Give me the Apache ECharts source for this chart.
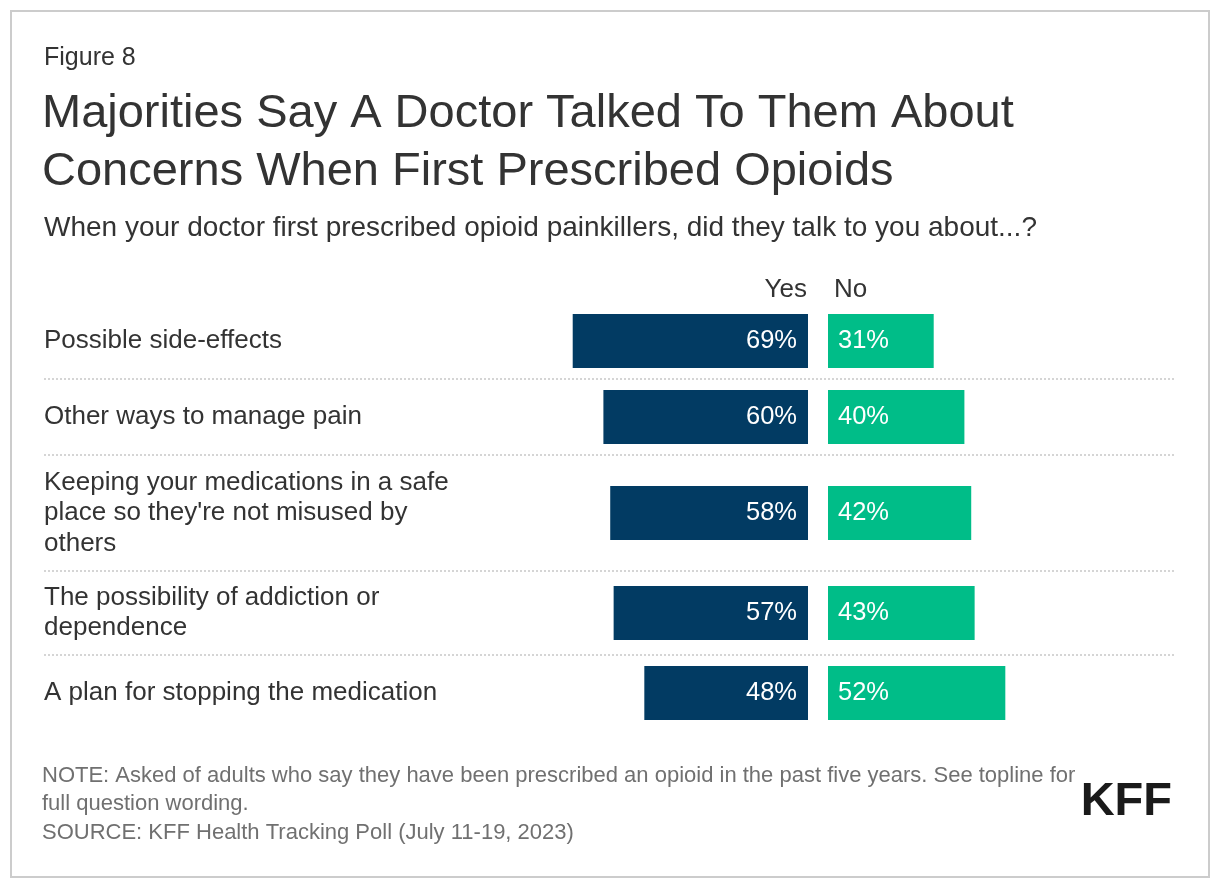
<!DOCTYPE html>
<html>
<head>
<meta charset="utf-8">
<script src="https://cdn.jsdelivr.net/npm/echarts@6/dist/echarts.min.js"></script>
<style>
html,body{margin:0;padding:0;background:#fff;}
#chart{width:1220px;height:888px;}
</style>
</head>
<body>
<div id="chart"></div>
<script>
const categories = [
  "Possible side-effects",
  "Other ways to manage pain",
  "Keeping your medications in a safe\nplace so they're not misused by\nothers",
  "The possibility of addiction or\ndependence",
  "A plan for stopping the medication"
];
const yesValues = [69, 60, 58, 57, 48];
const noValues = [31, 40, 42, 43, 52];
const seriesNames = ["Yes", "No"];
const figureLabel = "Figure 8";
const titleText = "Majorities Say A Doctor Talked To Them About\nConcerns When First Prescribed Opioids";
const subtitleText = "When your doctor first prescribed opioid painkillers, did they talk to you about...?";
const noteText = "NOTE: Asked of adults who say they have been prescribed an opioid in the past five years. See topline for\nfull question wording.\nSOURCE: KFF Health Tracking Poll (July 11-19, 2023)";

const FONT = '"Liberation Sans", Arial, Helvetica, sans-serif';
const NAVY = '#023b63';
const GREEN = '#00bd88';
const TEXT = '#333333';

const chart = echarts.init(document.getElementById('chart'), null, {renderer: 'canvas'});

const grids = [], xAxes = [], yAxes = [], series = [], graphics = [];
const yesLeft = 467, scaleW = 341, noLeft = 828;
let y = 303;
categories.forEach((cat, i) => {
  const lines = cat.split('\n').length;
  const h = Math.max(76, lines * 32 + 20);
  grids.push({left: yesLeft, width: scaleW, top: y, height: h, containLabel: false});
  grids.push({left: noLeft, width: scaleW, top: y, height: h, containLabel: false});
  xAxes.push({gridIndex: 2*i, type: 'value', min: 0, max: 100, inverse: true, show: false});
  xAxes.push({gridIndex: 2*i+1, type: 'value', min: 0, max: 100, show: false});
  yAxes.push({
    gridIndex: 2*i, type: 'category', data: [cat],
    axisLine: {show: false, onZero: false}, axisTick: {show: false}, splitLine: {show: false},
    axisLabel: {align: 'left', margin: yesLeft - 44, fontSize: 26, lineHeight: 30.5, color: TEXT, fontFamily: FONT}
  });
  yAxes.push({
    gridIndex: 2*i+1, type: 'category', data: [cat],
    axisLine: {show: false, onZero: false}, axisTick: {show: false}, axisLabel: {show: false}, splitLine: {show: false}
  });
  series.push({
    type: 'bar', name: seriesNames[0], xAxisIndex: 2*i, yAxisIndex: 2*i, data: [yesValues[i]],
    barWidth: 54, itemStyle: {color: NAVY},
    label: {show: true, position: 'insideRight', distance: 11, formatter: '{c}%', color: '#fff', fontSize: 25.5, fontFamily: FONT}
  });
  series.push({
    type: 'bar', name: seriesNames[1], xAxisIndex: 2*i+1, yAxisIndex: 2*i+1, data: [noValues[i]],
    barWidth: 54, itemStyle: {color: GREEN},
    label: {show: true, position: 'insideLeft', distance: 10, formatter: '{c}%', color: '#fff', fontSize: 25.5, fontFamily: FONT}
  });
  if (i > 0) {
    graphics.push({type: 'line', shape: {x1: 44, y1: y, x2: 1176, y2: y},
      style: {stroke: '#c8c8c8', lineWidth: 1.5, lineDash: [2, 2]}});
  }
  y += h;
});

graphics.push({type: 'rect', shape: {x: 11, y: 11, width: 1198, height: 866},
  style: {fill: 'none', stroke: '#cccccc', lineWidth: 2}});
graphics.push({type: 'text', x: 44, y: 58, style: {text: figureLabel, font: '25px ' + FONT, fill: TEXT, verticalAlign: 'middle'}});
graphics.push({type: 'text', x: 42, y: 143, style: {text: titleText, font: '47px ' + FONT, lineHeight: 58, fill: TEXT, verticalAlign: 'middle'}});
graphics.push({type: 'text', x: 44, y: 228, style: {text: subtitleText, font: '28px ' + FONT, fill: TEXT, verticalAlign: 'middle'}});
graphics.push({type: 'text', x: 807, y: 290, style: {text: seriesNames[0], font: '26px ' + FONT, fill: TEXT, align: 'right', verticalAlign: 'middle'}});
graphics.push({type: 'text', x: 834, y: 290, style: {text: seriesNames[1], font: '26px ' + FONT, fill: TEXT, align: 'left', verticalAlign: 'middle'}});
graphics.push({type: 'text', x: 42, y: 804, style: {text: noteText, font: '22px ' + FONT, lineHeight: 28.5, fill: '#707070', verticalAlign: 'middle'}});
graphics.push({type: 'text', x: 1172, y: 802, style: {text: 'KFF', font: '900 47px ' + FONT, fill: '#1a1a1a', align: 'right', verticalAlign: 'middle'}});

chart.setOption({
  animation: false,
  backgroundColor: '#ffffff',
  grid: grids, xAxis: xAxes, yAxis: yAxes, series: series,
  graphic: graphics
});
</script>
</body>
</html>
